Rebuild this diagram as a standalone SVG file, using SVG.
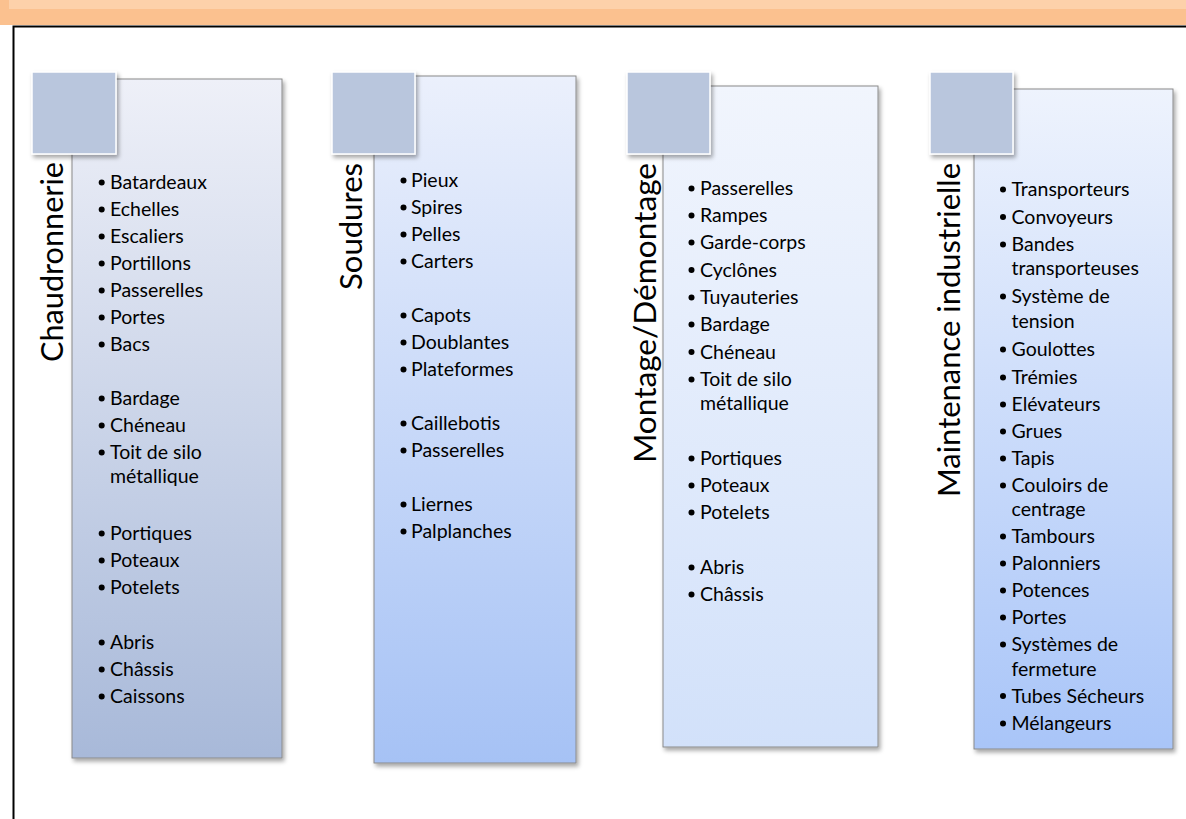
<svg xmlns="http://www.w3.org/2000/svg" width="1186" height="819" viewBox="0 0 1186 819">
<style>
.item{font-family:Lato,"Open Sans","Liberation Sans",sans-serif;font-size:19.5px;fill:#000}
.title{font-family:Lato,"Open Sans","Liberation Sans",sans-serif;font-size:30.5px;fill:#000}
.card{stroke:#8a8a8a;stroke-width:1}
.sq{fill:#b9c6dd;stroke:#ffffff;stroke-width:1.5}
.dot circle{fill:#000;r:3px}
</style>
<defs>
<linearGradient id="g1" x1="0" y1="0" x2="0" y2="1"><stop offset="0" stop-color="#eef0f8"/><stop offset="1" stop-color="#a8b9d9"/></linearGradient>
<linearGradient id="g2" x1="0" y1="0" x2="0" y2="1"><stop offset="0" stop-color="#ebf0fc"/><stop offset="1" stop-color="#a6c2f5"/></linearGradient>
<linearGradient id="g3" x1="0" y1="0" x2="0" y2="1"><stop offset="0" stop-color="#f1f5fd"/><stop offset="1" stop-color="#d2e1fa"/></linearGradient>
<linearGradient id="g4" x1="0" y1="0" x2="0" y2="1"><stop offset="0" stop-color="#eef3fd"/><stop offset="1" stop-color="#a9c5f8"/></linearGradient>
<filter id="sh" x="-10%" y="-10%" width="130%" height="130%"><feDropShadow dx="2" dy="3" stdDeviation="2" flood-color="#000" flood-opacity="0.35"/></filter>
</defs>
<rect x="0" y="0" width="1186" height="819" fill="#ffffff"/>
<g id="frame">
<rect x="0" y="0" width="1186" height="25" fill="#fbc18f"/>
<rect x="9" y="0" width="1177" height="9" fill="#fdd1aa"/>
<path d="M13.5 819 V26.5 H1186" fill="none" stroke="#000" stroke-width="2"/>
</g>
<g id="connectors"/>
<g id="card-chaudronnerie">
<rect class="card" x="72" y="79" width="210" height="679" fill="url(#g1)" filter="url(#sh)"/>
<rect class="sq" x="32" y="72" width="84" height="82" filter="url(#sh)"/>
<text class="title" transform="translate(63,162) rotate(-90)" text-anchor="end" textLength="200" lengthAdjust="spacingAndGlyphs">Chaudronnerie</text>
<g class="dot">
<circle cx="101.7" cy="182.5" r="3"/><circle cx="101.7" cy="209.5" r="3"/><circle cx="101.7" cy="236.5" r="3"/><circle cx="101.7" cy="263.5" r="3"/><circle cx="101.7" cy="290.5" r="3"/><circle cx="101.7" cy="317.5" r="3"/><circle cx="101.7" cy="344.5" r="3"/><circle cx="101.7" cy="398.5" r="3"/><circle cx="101.7" cy="425.5" r="3"/><circle cx="101.7" cy="452.5" r="3"/><circle cx="101.7" cy="533.5" r="3"/><circle cx="101.7" cy="560.5" r="3"/><circle cx="101.7" cy="587.5" r="3"/><circle cx="101.7" cy="642.5" r="3"/><circle cx="101.7" cy="669.5" r="3"/><circle cx="101.7" cy="696.5" r="3"/>
</g>
<text class="item" x="110" y="189">Batardeaux</text>
<text class="item" x="110" y="216">Echelles</text>
<text class="item" x="110" y="243">Escaliers</text>
<text class="item" x="110" y="270">Portillons</text>
<text class="item" x="110" y="297">Passerelles</text>
<text class="item" x="110" y="324">Portes</text>
<text class="item" x="110" y="351">Bacs</text>
<text class="item" x="110" y="405">Bardage</text>
<text class="item" x="110" y="432">Chéneau</text>
<text class="item" x="110" y="459">Toit de silo</text>
<text class="item" x="110" y="483">métallique</text>
<text class="item" x="110" y="540">Portiques</text>
<text class="item" x="110" y="567">Poteaux</text>
<text class="item" x="110" y="594">Potelets</text>
<text class="item" x="110" y="649">Abris</text>
<text class="item" x="110" y="676">Châssis</text>
<text class="item" x="110" y="703">Caissons</text>
</g>
<g id="card-soudures">
<rect class="card" x="374" y="76" width="202" height="687" fill="url(#g2)" filter="url(#sh)"/>
<rect class="sq" x="332" y="72" width="83" height="82" filter="url(#sh)"/>
<text class="title" transform="translate(362,163) rotate(-90)" text-anchor="end" textLength="127" lengthAdjust="spacingAndGlyphs">Soudures</text>
<g class="dot">
<circle cx="403.5" cy="180.5" r="3"/><circle cx="403.5" cy="207.5" r="3"/><circle cx="403.5" cy="234.5" r="3"/><circle cx="403.5" cy="261.5" r="3"/><circle cx="403.5" cy="315.5" r="3"/><circle cx="403.5" cy="342.5" r="3"/><circle cx="403.5" cy="369.5" r="3"/><circle cx="403.5" cy="423.5" r="3"/><circle cx="403.5" cy="450.5" r="3"/><circle cx="403.5" cy="504.5" r="3"/><circle cx="403.5" cy="531.5" r="3"/>
</g>
<text class="item" x="411" y="187">Pieux</text>
<text class="item" x="411" y="214">Spires</text>
<text class="item" x="411" y="241">Pelles</text>
<text class="item" x="411" y="268">Carters</text>
<text class="item" x="411" y="322">Capots</text>
<text class="item" x="411" y="349">Doublantes</text>
<text class="item" x="411" y="376">Plateformes</text>
<text class="item" x="411" y="430">Caillebotis</text>
<text class="item" x="411" y="457">Passerelles</text>
<text class="item" x="411" y="511">Liernes</text>
<text class="item" x="411" y="538">Palplanches</text>
</g>
<g id="card-montage">
<rect class="card" x="663" y="86" width="215" height="661" fill="url(#g3)" filter="url(#sh)"/>
<rect class="sq" x="627" y="72" width="83" height="82" filter="url(#sh)"/>
<text class="title" transform="translate(656,163) rotate(-90)" text-anchor="end" textLength="300" lengthAdjust="spacingAndGlyphs">Montage/Démontage</text>
<g class="dot">
<circle cx="691.5" cy="188.5" r="3"/><circle cx="691.5" cy="215.5" r="3"/><circle cx="691.5" cy="242.5" r="3"/><circle cx="691.5" cy="270" r="3"/><circle cx="691.5" cy="297.5" r="3"/><circle cx="691.5" cy="324.5" r="3"/><circle cx="691.5" cy="352" r="3"/><circle cx="691.5" cy="379.5" r="3"/><circle cx="691.5" cy="458.5" r="3"/><circle cx="691.5" cy="485.5" r="3"/><circle cx="691.5" cy="512.5" r="3"/><circle cx="691.5" cy="567.5" r="3"/><circle cx="691.5" cy="594.5" r="3"/>
</g>
<text class="item" x="700" y="195">Passerelles</text>
<text class="item" x="700" y="222">Rampes</text>
<text class="item" x="700" y="249">Garde-corps</text>
<text class="item" x="700" y="276.5">Cyclônes</text>
<text class="item" x="700" y="304">Tuyauteries</text>
<text class="item" x="700" y="331">Bardage</text>
<text class="item" x="700" y="358.5">Chéneau</text>
<text class="item" x="700" y="386">Toit de silo</text>
<text class="item" x="700" y="410">métallique</text>
<text class="item" x="700" y="465">Portiques</text>
<text class="item" x="700" y="492">Poteaux</text>
<text class="item" x="700" y="519">Potelets</text>
<text class="item" x="700" y="574">Abris</text>
<text class="item" x="700" y="601">Châssis</text>
</g>
<g id="card-maintenance">
<rect class="card" x="974" y="89" width="199" height="660" fill="url(#g4)" filter="url(#sh)"/>
<rect class="sq" x="930" y="72" width="83" height="82" filter="url(#sh)"/>
<text class="title" transform="translate(960,163) rotate(-90)" text-anchor="end" textLength="334" lengthAdjust="spacingAndGlyphs">Maintenance industrielle</text>
<g class="dot">
<circle cx="1003" cy="189.5" r="3"/><circle cx="1003" cy="217" r="3"/><circle cx="1003" cy="244.5" r="3"/><circle cx="1003" cy="296.5" r="3"/><circle cx="1003" cy="349.5" r="3"/><circle cx="1003" cy="377.5" r="3"/><circle cx="1003" cy="404.5" r="3"/><circle cx="1003" cy="431.5" r="3"/><circle cx="1003" cy="458.5" r="3"/><circle cx="1003" cy="485.5" r="3"/><circle cx="1003" cy="536.5" r="3"/><circle cx="1003" cy="563.5" r="3"/><circle cx="1003" cy="590.5" r="3"/><circle cx="1003" cy="617.5" r="3"/><circle cx="1003" cy="644.5" r="3"/><circle cx="1003" cy="696" r="3"/><circle cx="1003" cy="723.5" r="3"/>
</g>
<text class="item" x="1011.5" y="196">Transporteurs</text>
<text class="item" x="1011.5" y="223.5">Convoyeurs</text>
<text class="item" x="1011.5" y="251">Bandes</text>
<text class="item" x="1011.5" y="275">transporteuses</text>
<text class="item" x="1011.5" y="303">Système de</text>
<text class="item" x="1011.5" y="328">tension</text>
<text class="item" x="1011.5" y="356">Goulottes</text>
<text class="item" x="1011.5" y="384">Trémies</text>
<text class="item" x="1011.5" y="411">Elévateurs</text>
<text class="item" x="1011.5" y="438">Grues</text>
<text class="item" x="1011.5" y="465">Tapis</text>
<text class="item" x="1011.5" y="492">Couloirs de</text>
<text class="item" x="1011.5" y="516">centrage</text>
<text class="item" x="1011.5" y="543">Tambours</text>
<text class="item" x="1011.5" y="570">Palonniers</text>
<text class="item" x="1011.5" y="597">Potences</text>
<text class="item" x="1011.5" y="624">Portes</text>
<text class="item" x="1011.5" y="651">Systèmes de</text>
<text class="item" x="1011.5" y="675.5">fermeture</text>
<text class="item" x="1011.5" y="702.5">Tubes Sécheurs</text>
<text class="item" x="1011.5" y="730">Mélangeurs</text>
</g>
</svg>
